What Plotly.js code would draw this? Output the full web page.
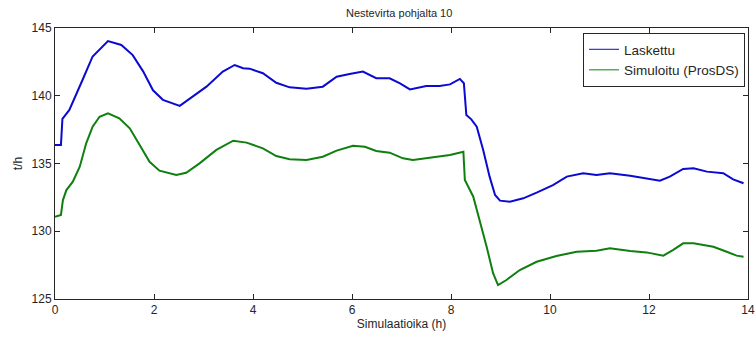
<!DOCTYPE html>
<html>
<head>
<meta charset="utf-8">
<script src="https://cdn.plot.ly/plotly-3.0.1.min.js"></script>
<style>html,body{margin:0;padding:0;background:#fff}#chart{width:756px;height:340px}</style>
</head>
<body>
<div id="chart"></div>
<script>
var laskettuX = [0.0, 0.12, 0.15, 0.29, 0.56, 0.76, 1.07, 1.34, 1.57, 1.78, 1.98, 2.18, 2.52, 2.79, 3.06, 3.39, 3.63, 3.8, 3.93, 4.2, 4.47, 4.74, 5.08, 5.41, 5.69, 5.95, 6.22, 6.49, 6.76, 6.97, 7.17, 7.5, 7.77, 7.98, 8.18, 8.26, 8.31, 8.41, 8.52, 8.65, 8.78, 8.89, 8.99, 9.19, 9.46, 9.73, 10.06, 10.34, 10.67, 10.94, 11.21, 11.62, 11.95, 12.22, 12.42, 12.69, 12.9, 13.17, 13.5, 13.7, 13.91];
var laskettuY = [136.37, 136.37, 138.3, 138.95, 141.2, 142.9, 144.04, 143.75, 143.0, 141.8, 140.4, 139.7, 139.25, 139.93, 140.67, 141.78, 142.27, 142.03, 142.0, 141.66, 140.96, 140.62, 140.52, 140.67, 141.4, 141.6, 141.78, 141.29, 141.29, 140.92, 140.47, 140.72, 140.72, 140.84, 141.24, 140.92, 138.58, 138.26, 137.72, 136.0, 134.03, 132.68, 132.26, 132.18, 132.43, 132.85, 133.41, 134.03, 134.28, 134.15, 134.28, 134.1, 133.91, 133.73, 134.03, 134.6, 134.65, 134.4, 134.28, 133.83, 133.54];
var simuloituX = [0.0, 0.12, 0.16, 0.23, 0.36, 0.5, 0.63, 0.76, 0.9, 1.07, 1.3, 1.51, 1.71, 1.91, 2.11, 2.45, 2.65, 2.92, 3.26, 3.6, 3.87, 4.2, 4.47, 4.74, 5.08, 5.41, 5.69, 6.02, 6.26, 6.49, 6.76, 7.03, 7.23, 7.57, 7.98, 8.25, 8.28, 8.45, 8.58, 8.72, 8.85, 8.95, 9.12, 9.39, 9.73, 10.13, 10.54, 10.94, 11.21, 11.62, 11.95, 12.29, 12.49, 12.69, 12.9, 13.3, 13.57, 13.77, 13.91];
var simuloituY = [131.07, 131.2, 132.3, 133.04, 133.66, 134.76, 136.49, 137.72, 138.45, 138.7, 138.34, 137.6, 136.37, 135.13, 134.47, 134.15, 134.32, 135.01, 136.0, 136.68, 136.54, 136.12, 135.55, 135.31, 135.26, 135.5, 135.95, 136.31, 136.24, 135.92, 135.8, 135.38, 135.26, 135.43, 135.63, 135.87, 133.78, 132.55, 130.83, 128.86, 126.9, 126.03, 126.4, 127.14, 127.75, 128.17, 128.49, 128.56, 128.74, 128.54, 128.44, 128.2, 128.62, 129.11, 129.11, 128.86, 128.49, 128.2, 128.12];
var seriesNames = ['Laskettu', 'Simuloitu (ProsDS)'];
var seriesColors = ['#0a0ad0', '#0f7f0f'];
var xTicks = [0, 2, 4, 6, 8, 10, 12, 14];
var yTicks = [125, 130, 135, 140, 145];

var font = 'Liberation Sans, Arial, sans-serif';
var traces = [
  {x: laskettuX, y: laskettuY, name: seriesNames[0], mode: 'lines', type: 'scatter',
   line: {color: seriesColors[0], width: 2}, showlegend: false},
  {x: simuloituX, y: simuloituY, name: seriesNames[1], mode: 'lines', type: 'scatter',
   line: {color: seriesColors[1], width: 2}, showlegend: false},
  /* legend entries drawn with thin lines, as in the reference */
  {x: [null], y: [null], name: seriesNames[0], mode: 'lines', type: 'scatter',
   line: {color: seriesColors[0], width: 1}, showlegend: true},
  {x: [null], y: [null], name: seriesNames[1], mode: 'lines', type: 'scatter',
   line: {color: seriesColors[1], width: 1}, showlegend: true}
];
var axisCommon = {
  showline: true, mirror: 'ticks', linecolor: '#262626', linewidth: 1,
  ticks: 'inside', ticklen: 5, tickcolor: '#262626', showgrid: false, zeroline: false,
  tickfont: {family: font, size: 12, color: '#262626'}
};
var layout = {
  width: 756, height: 340,
  margin: {l: 55, r: 8, t: 28, b: 41},
  paper_bgcolor: '#fff', plot_bgcolor: '#fff',
  title: {text: 'Nestevirta pohjalta 10', font: {family: font, size: 11, color: '#262626'}, x: 0.528, xanchor: 'center', y: 0.962, yanchor: 'middle'},
  xaxis: Object.assign({}, axisCommon, {range: [0, 14], tickvals: xTicks, ticktext: xTicks.map(String),
    title: {text: 'Simulaatioika (h)', font: {family: font, size: 12, color: '#262626'}, standoff: 3}}),
  yaxis: Object.assign({}, axisCommon, {range: [125, 145], tickvals: yTicks, ticktext: yTicks.map(String),
    title: {text: 't/h', font: {family: font, size: 12, color: '#262626'}, standoff: 6}}),
  showlegend: true,
  legend: {x: 0.9957, xanchor: 'right', y: 0.9815, yanchor: 'top', bgcolor: '#fff',
    bordercolor: '#262626', borderwidth: 1, font: {family: font, size: 13.5, color: '#262626'},
    tracegroupgap: 0, itemwidth: 30}
};
Plotly.newPlot('chart', traces, layout, {staticPlot: true, displayModeBar: false});
</script>
</body>
</html>
